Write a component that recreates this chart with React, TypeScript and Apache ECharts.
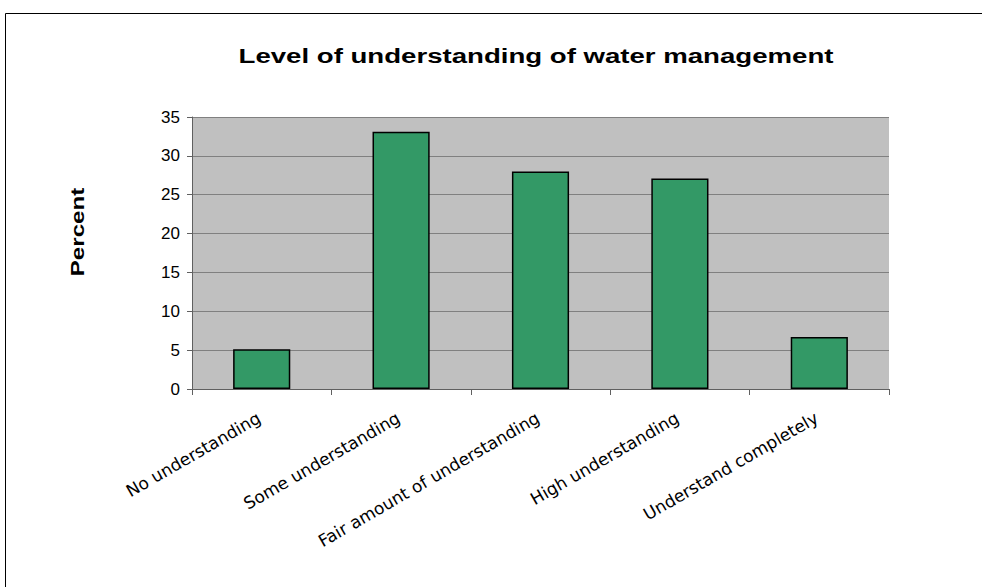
import React, { useEffect, useRef } from "react";
import * as echarts from "echarts";

const categories = [
  "No understanding",
  "Some understanding",
  "Fair amount of understanding",
  "High understanding",
  "Understand completely",
];
const percentValues = [5.1, 33.1, 28.0, 27.1, 6.7];
const yTicks = { min: 0, max: 35, interval: 5 };
const titleText = "Level of understanding of water management";
const yAxisTitle = "Percent";

export default function App() {
  const ref = useRef<HTMLDivElement>(null);
  useEffect(() => {
    if (!ref.current) return;
    const chart = echarts.init(ref.current, null, { renderer: "svg" });
    chart.setOption({
      animation: false,
      backgroundColor: "#ffffff",
      grid: {
        left: 192,
        right: 93,
        top: 117,
        bottom: 198,
        show: true,
        backgroundColor: "#c0c0c0",
        borderWidth: 0,
      },
      xAxis: {
        type: "category",
        data: categories,
        boundaryGap: true,
        axisLine: { show: true, lineStyle: { color: "#606060", width: 1 } },
        axisTick: { show: true, length: 6, lineStyle: { color: "#606060" } },
        axisLabel: {
          rotate: 30,
          margin: 16,
          align: "right",
          verticalAlign: "top",
          padding: [0, 8, 0, 0],
          color: "#000",
          fontFamily: "DejaVu Sans",
          fontSize: 17,
          interval: 0,
        },
      },
      yAxis: {
        type: "value",
        min: yTicks.min,
        max: yTicks.max,
        interval: yTicks.interval,
        axisLine: { show: true, lineStyle: { color: "#606060", width: 1 } },
        axisTick: { show: true, length: 5, lineStyle: { color: "#606060" } },
        splitLine: { show: true, lineStyle: { color: "#808080", width: 1 } },
        axisLabel: {
          margin: 12,
          color: "#000",
          fontFamily: "Liberation Sans, Arial",
          fontSize: 17,
        },
      },
      series: [
        {
          type: "bar",
          data: percentValues,
          barWidth: "41%",
          itemStyle: { color: "#339966", borderColor: "#000", borderWidth: 1.5 },
        },
      ],
      graphic: [
        {
          type: "rect",
          shape: { x: 5.5, y: 13.5, width: 1000, height: 1000 },
          style: { fill: "none", stroke: "#000", lineWidth: 1 },
          silent: true,
        },
        {
          type: "text",
          x: 536,
          y: 56,
          scaleX: 1.38,
          style: {
            text: titleText,
            fontFamily: "Liberation Sans, Arial",
            fontWeight: "bold",
            fontSize: 20,
            fill: "#000",
            textAlign: "center",
            textVerticalAlign: "middle",
          },
        },
        {
          type: "text",
          x: 78,
          y: 232,
          rotation: Math.PI / 2,
          scaleX: 1.34,
          style: {
            text: yAxisTitle,
            fontFamily: "Liberation Sans, Arial",
            fontWeight: "bold",
            fontSize: 18,
            fill: "#000",
            textAlign: "center",
            textVerticalAlign: "middle",
          },
        },
      ],
    });
    return () => chart.dispose();
  }, []);
  return (
    <div
      ref={ref}
      style={{ position: "absolute", left: 0, top: 0, width: 982, height: 587 }}
    />
  );
}
